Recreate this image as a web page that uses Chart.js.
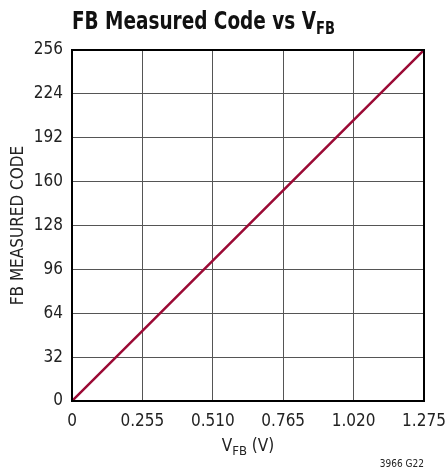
<!DOCTYPE html>
<html>
<head>
<meta charset="utf-8">
<script src="https://cdn.jsdelivr.net/npm/chart.js@4/dist/chart.umd.min.js"></script>
<style>
  html, body { margin: 0; padding: 0; background: #fff; }
  .chartBox { width: 448px; height: 471px; }
</style>
</head>
<body>
<div class="chartBox"><canvas id="myChart" width="448" height="471"></canvas></div>
<script>
  // data
  const vfb = [0, 0.255, 0.510, 0.765, 1.020, 1.275];
  const measuredCode = [0, 51.2, 102.4, 153.6, 204.8, 256];
  const xTicks = [0, 0.255, 0.510, 0.765, 1.020, 1.275];
  const yTicks = [0, 32, 64, 96, 128, 160, 192, 224, 256];

  const FONT = "'DejaVu Sans Condensed', 'Liberation Sans Narrow', sans-serif";

  // title, x title with subscripts, border box, footnote
  const extras = {
    id: 'extras',
    afterDraw(chart) {
      const ctx = chart.ctx;
      const area = chart.chartArea;
      ctx.save();
      ctx.strokeStyle = '#000';
      ctx.lineWidth = 2;
      ctx.strokeRect(area.left, area.top, area.right - area.left, area.bottom - area.top);

      ctx.fillStyle = '#111';
      ctx.textBaseline = 'alphabetic';
      ctx.textAlign = 'left';
      // squeeze the title a bit, the original face is very condensed
      ctx.save();
      ctx.translate(72, 0);
      ctx.scale(0.855, 1);
      ctx.font = "bold 24px " + FONT;
      const t = 'FB Measured Code vs V';
      ctx.fillText(t, 0, 29);
      const tw = ctx.measureText(t).width;
      ctx.font = "bold 17px " + FONT;
      ctx.fillText('FB', tw, 34);
      ctx.restore();

      // x axis title
      ctx.fillStyle = '#222';
      const mid = (area.left + area.right) / 2;
      ctx.font = "17px " + FONT;
      const a = 'V', c = ' (V)';
      const aw = ctx.measureText(a).width, cw = ctx.measureText(c).width;
      ctx.font = "13px " + FONT;
      const bw = ctx.measureText('FB').width;
      let x = mid - (aw + bw + cw) / 2;
      ctx.font = "17px " + FONT;
      ctx.fillText(a, x, 451);
      ctx.font = "13px " + FONT;
      ctx.fillText('FB', x + aw, 455);
      ctx.font = "17px " + FONT;
      ctx.fillText(c, x + aw + bw, 451);

      ctx.font = "10px " + FONT;
      ctx.textAlign = 'right';
      ctx.fillText('3966 G22', 424, 467);
      ctx.restore();
    }
  };

  const data = {
    datasets: [{
      label: 'FB Measured Code',
      data: vfb.map((v, i) => ({ x: v, y: measuredCode[i] })),
      borderColor: '#9b0a35',
      borderWidth: 2.5,
      pointRadius: 0,
      fill: false,
      tension: 0
    }]
  };

  const config = {
    type: 'line',
    data,
    options: {
      responsive: false,
      animation: false,
      layout: { padding: { top: 50, right: 24, left: 0, bottom: 0 } },
      plugins: {
        legend: { display: false },
        tooltip: { enabled: false }
      },
      scales: {
        x: {
          type: 'linear',
          min: 0,
          max: 1.275,
          afterBuildTicks: (s) => { s.ticks = xTicks.map(v => ({ value: v })); },
          afterFit: (s) => { s.height = 70; s.paddingLeft = 0; s.paddingRight = 0; },
          grid: { color: '#555', lineWidth: 1, drawTicks: false },
          border: { display: false },
          ticks: {
            padding: 10,
            color: '#222',
            font: { family: FONT, size: 17 },
            maxRotation: 0,
            callback: (v) => v === 0 ? '0' : v.toFixed(3)
          }
        },
        y: {
          min: 0,
          max: 256,
          afterBuildTicks: (s) => { s.ticks = yTicks.map(v => ({ value: v })); },
          afterFit: (s) => { s.width = 72; s.paddingTop = 0; s.paddingBottom = 0; },
          grid: { color: '#555', lineWidth: 1, drawTicks: false },
          border: { display: false },
          ticks: {
            padding: 9,
            color: '#222',
            font: { family: FONT, size: 17 }
          },
          title: {
            display: true,
            text: 'FB MEASURED CODE',
            color: '#222',
            font: { family: FONT, size: 17 },
            padding: { top: 8, bottom: 0 }
          }
        }
      }
    },
    plugins: [extras]
  };

  const myChart = new Chart(document.getElementById('myChart'), config);
</script>
</body>
</html>
